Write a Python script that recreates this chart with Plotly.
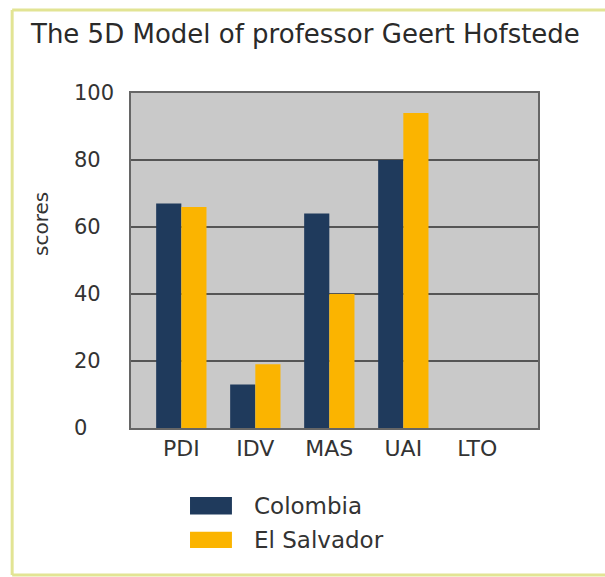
import plotly.graph_objects as go

dimensions = ['PDI', 'IDV', 'MAS', 'UAI', 'LTO']
countries = ['Colombia', 'El Salvador']
colombia = [67, 13, 64, 80, None]
el_salvador = [66, 19, 40, 94, None]
colors = ['#1f3a5c', '#fbb400']
y_ticks = [0, 20, 40, 60, 80, 100]

font_family = 'DejaVu Sans, Verdana, sans-serif'

fig = go.Figure()

for name, values, color in zip(countries, [colombia, el_salvador], colors):
    fig.add_trace(
        go.Bar(
            x=dimensions,
            y=values,
            name=name,
            marker=dict(color=color, line=dict(width=0)),
            showlegend=False,
        )
    )

# yellowish frame around the whole chart (open on the right)
frame = dict(type='line', xref='paper', yref='paper', line=dict(color='#e2e494', width=3))
fig.add_shape(frame, x0=-0.292, x1=1.2, y0=1.248, y1=1.248)
fig.add_shape(frame, x0=-0.292, x1=-0.292, y0=1.248, y1=-0.439)
fig.add_shape(frame, x0=-0.292, x1=1.2, y0=-0.439, y1=-0.439)

# y tick labels are left aligned in the original
for val in y_ticks:
    fig.add_annotation(
        text=str(val), xref='paper', yref='y', x=-0.145, y=val,
        xanchor='left', yanchor='middle', showarrow=False,
        font=dict(size=21, color='#333333', family=font_family),
    )

# legend drawn by hand to get the wide swatches of the original
legend_rows = [(-0.206, -0.258), (-0.310, -0.358)]
for (top, bottom), name, color in zip(legend_rows, countries, colors):
    fig.add_shape(
        type='rect', xref='paper', yref='paper',
        x0=0.145, x1=0.248, y0=bottom, y1=top,
        fillcolor=color, line=dict(width=0),
    )
    fig.add_annotation(
        text=name, xref='paper', yref='paper',
        x=0.297, y=(top + bottom) / 2, xanchor='left', yanchor='middle',
        showarrow=False, font=dict(size=23, color='#333333', family=font_family),
    )

fig.add_annotation(
    text='The 5D Model of professor Geert Hofstede',
    xref='paper', yref='paper', x=-0.252, y=1.175,
    xanchor='left', yanchor='middle', showarrow=False,
    font=dict(size=26, color='#2a2a2a', family=font_family),
)
fig.add_annotation(
    text='scores',
    xref='paper', yref='paper', x=-0.223, y=0.61,
    xanchor='center', yanchor='middle', showarrow=False, textangle=-90,
    font=dict(size=20, color='#333333', family=font_family),
)

fig.update_layout(
    width=605,
    height=577,
    margin=dict(l=131, r=67, t=93, b=149),
    paper_bgcolor='white',
    plot_bgcolor='#c9c9c9',
    barmode='group',
    bargap=0.32,
    bargroupgap=0,
    font=dict(family=font_family, color='#333333'),
    xaxis=dict(
        type='category',
        range=[-0.68, 4.82],
        showgrid=False,
        showline=True, linecolor='#666666', linewidth=2, mirror=True,
        ticks='', tickfont=dict(size=22, color='#333333'),
    ),
    yaxis=dict(
        range=[0, 100],
        tickvals=y_ticks,
        showticklabels=False,
        showgrid=True, gridcolor='#555555', gridwidth=2,
        showline=True, linecolor='#666666', linewidth=2, mirror=True,
        zeroline=False,
    ),
    showlegend=False,
)

# drop the page's default body margin so the figure fills the window
fig.write_html(
    'out.html',
    config={'displayModeBar': False},
    post_script="document.body.style.margin='0';",
)
